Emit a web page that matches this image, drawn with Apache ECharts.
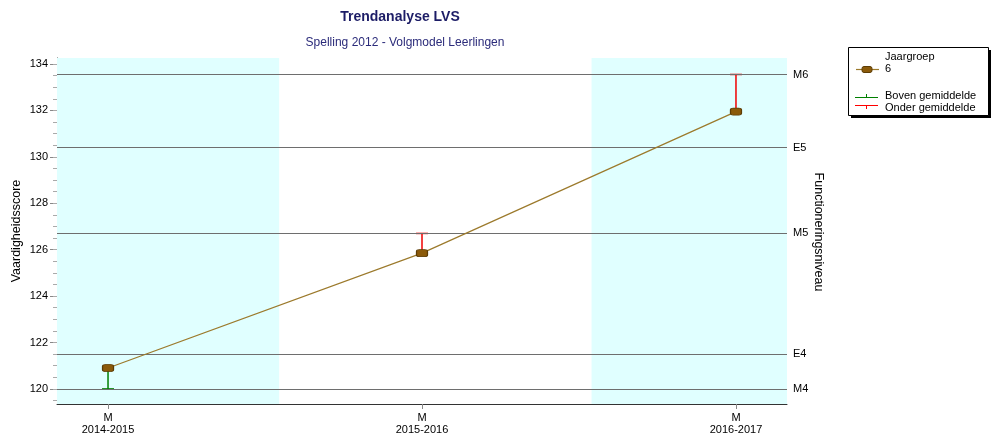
<!DOCTYPE html>
<html>
<head>
<meta charset="utf-8">
<script src="https://cdn.jsdelivr.net/npm/echarts@6/dist/echarts.min.js"></script>
<style>html,body{margin:0;padding:0;background:#fff}#c{width:1000px;height:445px}</style>
</head>
<body>
<div id="c"></div>
<script>
// ---- data ----
const categories = ['2014-2015', '2015-2016', '2016-2017'];
const periodLabels = ['M', 'M', 'M'];
const scores = [120.9, 125.85, 131.95];
const barEnds = [120.0, 126.7, 133.55];
const refValues = [120.0, 121.5, 126.7, 130.4, 133.55];
const refNames = ['M4', 'E4', 'M5', 'E5', 'M6'];
const yTickValues = [120, 122, 124, 126, 128, 130, 132, 134];
const yMinorTicks = [119.5,120,120.5,121,121.5,122,122.5,123,123.5,124,124.5,125,125.5,126,126.5,127,127.5,128,128.5,129,129.5,130,130.5,131,131.5,132,132.5,133,133.5,134];
const shadedBands = [[-0.1625, 0.545], [1.54, 2.1625]];

const X_MIN = -0.1625, X_MAX = 2.1625, Y_MIN = 119.35, Y_MAX = 134.26;
const FONT = 'Liberation Sans, Arial, sans-serif';

const chart = echarts.init(document.getElementById('c'), null, {renderer: 'canvas'});

const lineData = scores.map((v, i) => [i, v]);
const errData = scores.map((v, i) => [i, v, barEnds[i]]);

const option = {
  animation: false,
  textStyle: {fontFamily: FONT},
  grid: {left: 57, right: 213, top: 58, bottom: 41},
  xAxis: {
    type: 'value', min: X_MIN, max: X_MAX,
    axisLine: {show: true, onZero: false, lineStyle: {color: '#333', width: 1}},
    axisTick: {show: true, customValues: [0, 1, 2], length: 5, lineStyle: {color: '#888'}},
    axisLabel: {
      customValues: [0, 1, 2], color: '#000', fontSize: 11, margin: 8, lineHeight: 12,
      formatter: v => periodLabels[Math.round(v)] + '\n' + categories[Math.round(v)]
    },
    splitLine: {show: false}
  },
  yAxis: [{
    type: 'value', min: Y_MIN, max: Y_MAX, position: 'left',
    axisLine: {show: true, onZero: false, lineStyle: {color: '#333', width: 1}},
    axisTick: {show: true, customValues: yTickValues, length: 7, lineStyle: {color: '#888'}},
    axisLabel: {customValues: yTickValues, color: '#000', fontSize: 11, margin: 9},
    splitLine: {show: false}
  }, {
    type: 'value', min: Y_MIN, max: Y_MAX, position: 'left', offset: 0,
    axisLine: {show: false, onZero: false},
    axisTick: {show: true, customValues: yMinorTicks, length: 4, lineStyle: {color: '#aaa'}},
    axisLabel: {show: false},
    splitLine: {show: false}
  }],
  series: [{
    type: 'custom',
    name: 'err',
    z: 3,
    data: errData,
    renderItem: function (params, api) {
      const x = api.value(0), y0 = api.value(1), y1 = api.value(2);
      const p0 = api.coord([x, y0]);
      const p1 = api.coord([x, y1]);
      const color = y1 < y0 ? '#008000' : '#f00000';
      return {type: 'group', children: [
        {type: 'line', shape: {x1: p0[0], y1: p0[1], x2: p1[0], y2: p1[1]}, style: {stroke: color, lineWidth: 1.5}},
        {type: 'line', shape: {x1: p1[0] - 6, y1: p1[1], x2: p1[0] + 6, y2: p1[1]}, style: {stroke: color, lineWidth: 1.5}}
      ]};
    },
    markArea: {
      silent: true,
      label: {show: false},
      itemStyle: {color: '#E0FFFF'},
      data: shadedBands.map(b => [{xAxis: b[0]}, {xAxis: b[1]}])
    },
    markLine: {
      silent: true, symbol: 'none',
      lineStyle: {color: '#6e6e6e', width: 1, type: 'solid'},
      label: {position: 'end', color: '#000', fontSize: 11, distance: 6, fontFamily: FONT},
      data: refValues.map((v, i) => ({yAxis: v, label: {formatter: refNames[i]}}))
    }
  }, {
    type: 'line',
    name: 'Jaargroep 6',
    z: 5,
    data: lineData,
    symbol: 'roundRect',
    symbolSize: [11, 7],
    showSymbol: true,
    lineStyle: {color: '#9C7A2C', width: 1.2},
    itemStyle: {color: '#8B5A0A', borderColor: '#5c3c05', borderWidth: 1}
  }],
  graphic: [
    {type: 'text', x: 400, y: 17, style: {text: 'Trendanalyse LVS', font: 'bold 14px ' + FONT, fill: '#1c1c66', textAlign: 'center', textVerticalAlign: 'middle'}},
    {type: 'text', x: 405, y: 43, style: {text: 'Spelling 2012 - Volgmodel Leerlingen', font: '12px ' + FONT, fill: '#2b2b7a', textAlign: 'center', textVerticalAlign: 'middle'}},
    {type: 'text', x: 17, y: 231, rotation: Math.PI / 2, style: {text: 'Vaardigheidsscore', font: '12.5px ' + FONT, fill: '#000', textAlign: 'center', textVerticalAlign: 'middle'}},
    {type: 'text', x: 818, y: 232, rotation: -Math.PI / 2, style: {text: 'Functioneringsniveau', font: '12.5px ' + FONT, fill: '#000', textAlign: 'center', textVerticalAlign: 'middle'}},
    // legend box with shadow
    {type: 'rect', shape: {x: 851, y: 50, width: 140, height: 68}, style: {fill: '#000'}},
    {type: 'rect', shape: {x: 848.5, y: 47.5, width: 140, height: 68}, style: {fill: '#fff', stroke: '#000', lineWidth: 1}},
    {type: 'line', shape: {x1: 856, y1: 69.5, x2: 879, y2: 69.5}, style: {stroke: '#9C7A2C', lineWidth: 1.2}},
    {type: 'rect', shape: {x: 862, y: 66.5, width: 10, height: 6, r: 2}, style: {fill: '#8B5A0A', stroke: '#5c3c05', lineWidth: 1}},
    {type: 'text', x: 885, y: 57, style: {text: 'Jaargroep', font: '11px ' + FONT, fill: '#000', textVerticalAlign: 'middle'}},
    {type: 'text', x: 885, y: 69, style: {text: '6', font: '11px ' + FONT, fill: '#000', textVerticalAlign: 'middle'}},
    {type: 'line', shape: {x1: 855, y1: 97.5, x2: 878, y2: 97.5}, style: {stroke: '#008000', lineWidth: 1}},
    {type: 'line', shape: {x1: 866.5, y1: 94, x2: 866.5, y2: 97.5}, style: {stroke: '#008000', lineWidth: 1}},
    {type: 'text', x: 885, y: 96, style: {text: 'Boven gemiddelde', font: '11px ' + FONT, fill: '#000', textVerticalAlign: 'middle'}},
    {type: 'line', shape: {x1: 855, y1: 105.5, x2: 878, y2: 105.5}, style: {stroke: '#ff0000', lineWidth: 1}},
    {type: 'line', shape: {x1: 866.5, y1: 105.5, x2: 866.5, y2: 109}, style: {stroke: '#ff0000', lineWidth: 1}},
    {type: 'text', x: 885, y: 108, style: {text: 'Onder gemiddelde', font: '11px ' + FONT, fill: '#000', textVerticalAlign: 'middle'}}
  ]
};
chart.setOption(option);
</script>
</body>
</html>
